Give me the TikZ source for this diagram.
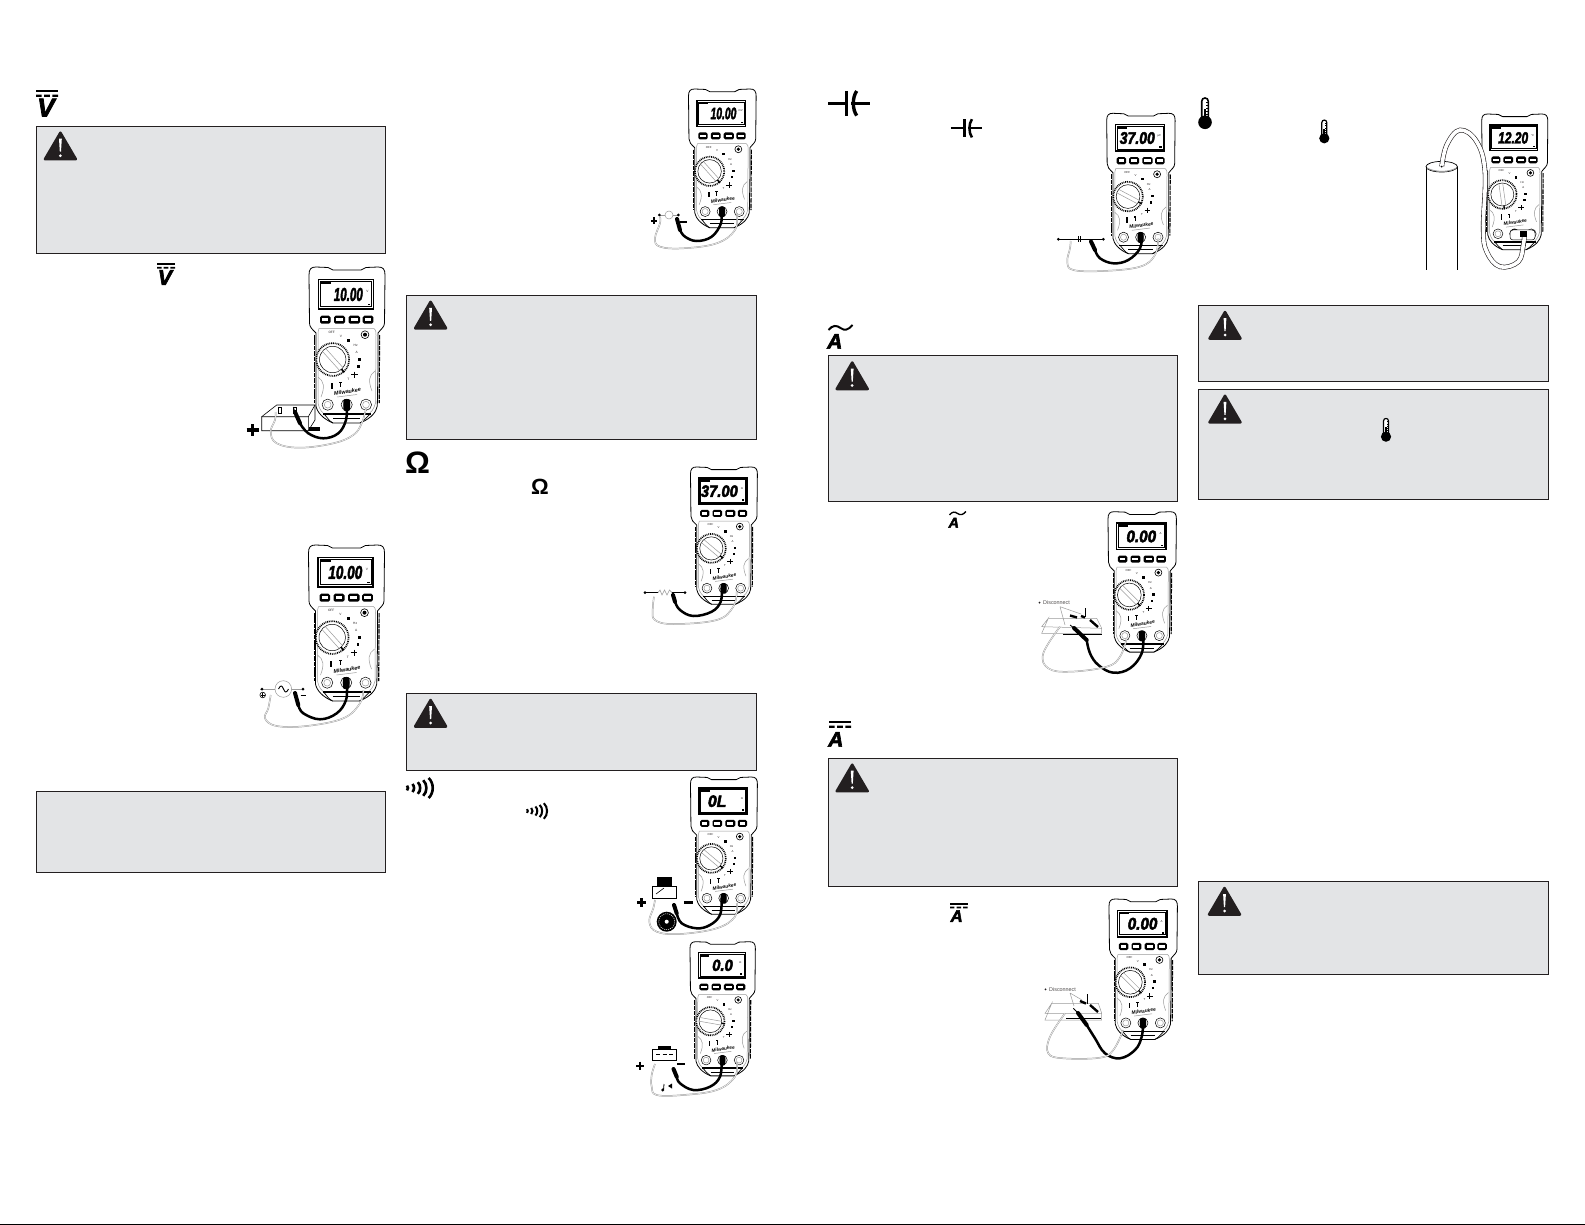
\documentclass[tikz,border=0pt]{standalone}
\usepackage{graphicx}
\usepackage{fontspec}
\setmainfont{Liberation Sans}
\newfontfamily\heavyit{Liberation Sans Bold Italic}[FakeBold=3]
\usetikzlibrary{calc}
\definecolor{ink}{HTML}{231F20}
\definecolor{boxfill}{HTML}{E3E4E6}
\definecolor{wiregray}{HTML}{9A9A9A}
\tikzset{
 panelbox/.style={draw=ink,fill=boxfill,line width=1pt},
 blackwire/.style={draw=black,line width=2.5pt,line cap=round},
 probeb/.style={draw=black,line width=4pt,line cap=round},
 graywire/.style={draw=wiregray,double=white,double distance=.5pt,line width=.5pt},
 thinpart/.style={draw=black,line width=.6pt},
 faint/.style={draw=wiregray,line width=.5pt},
 tiny/.style={inner sep=0pt,font=\fontsize{3.2}{3.2}\selectfont,text=ink},
}
\newcommand\wbox[4]{\draw[panelbox] (#1,#2) rectangle (#3,#4);}
\newcommand\wtri[2]{\begin{scope}[shift={(#1,#2)}]
 \draw[fill=ink,draw=ink,line join=round,line width=2.5pt] (17,2)--(32.5,28.5)--(1.5,28.5)--cycle;
 \fill[white] (15.6,8) -- (18.4,8) -- (17.6,21) -- (16.4,21) -- cycle;
 \fill[white] (17,25) circle (1.5);
\end{scope}}
% meter: x y scale reading width right unit angle
\newcommand\meter[8]{\begin{scope}[shift={(#1,#2)},scale=#3,transform shape]
 \draw[fill=white,draw=black,line width=.8pt,line join=round]
   (0,8) .. controls (0,2) and (2,0) .. (7,0) -- (19,.5) -- (24,3) -- (52,3) -- (57,.5) -- (69,0)
   .. controls (74,0) and (76,2) .. (76,8) -- (75.5,56) .. controls (75.5,60) and (72,62) .. (69,66)
   -- (69,100) -- (68.3,139) .. controls (67,145) and (63,151) .. (51,156) -- (24,156)
   .. controls (14,152) and (8,145) .. (7,139) -- (7,100) -- (7,66)
   .. controls (3,62) and (.5,60) .. (.5,56) -- cycle;
 \draw[line width=1.1pt,dash pattern=on 4.5pt off .9pt] (70.6,68) -- (70.2,136);
 \draw[line width=1.1pt,dash pattern=on 4.5pt off .9pt] (5.6,68) -- (5.6,136);
 \draw[faint] (10,61.5) -- (65,61.5) .. controls (66.5,62) and (67,64) .. (67,68) -- (66.5,136) .. controls (65,142) and (62,146) .. (58,148);
 \draw[faint] (10,61.5) .. controls (9,63) and (9,66) .. (9,70) -- (9,136) .. controls (10,142) and (13,146) .. (17,148);
 \draw[faint] (9,110) .. controls (15,114) and (16,120) .. (12,130);
 \draw[faint] (66,104) .. controls (60,108) and (59,114) .. (63,124);
 % lcd
 \draw[fill=white,draw=black,line width=1.5pt] (9.7,12.7) rectangle (64.3,42);
 \draw[draw=black,line width=.5pt] (11.4,14.4) rectangle (62.6,39.6);
 \fill[black] (11.4,14.6) rectangle (22,17.2);
 \fill[black] (58.5,36.7) rectangle (61,38.4);
 \node[anchor=east,inner sep=0pt] at (#6,27.5) {\resizebox{#5pt}{13pt}{\heavyit #4}};
 \node[tiny] at (58.5,24.5) {#7};
 % buttons
 \foreach \a/\b in {11/21.5,25/36,39.5/51,53.7/64.3}{
   \fill[black,rounded corners=1.6pt] (\a,48.7) rectangle (\b,56.7);
   \fill[white] (\a+2.2,51.2) rectangle (\b-2.2,54.2);
 }
 % dial
 \draw[line width=1.7pt,dash pattern=on .9pt off .9pt,fill=white] (23.7,92.5) circle (16.4);
 \draw[draw=black,line width=.5pt,fill=white] (23.7,92.5) circle (13.2);
 \begin{scope}[shift={(23.7,92.5)},rotate=#8]
  \draw[faint] (-12.9,-2.2) -- (12.9,-2.2);
  \draw[faint] (-12.9,2.2) -- (12.9,2.2);
  \fill[black] (13,-.8) rectangle (17.2,.8);
 \end{scope}
 % dial labels
 \node[tiny] at (22.7,65.5) {OFF};
 \node[tiny] at (32,69) {V};
 \fill[black] (38,71.5) rectangle (41,74.5);
 \node[tiny] at (46.7,78.7) {Hz};
 \node[tiny] at (47.7,85) {A};
 \fill[black] (49,90.5) rectangle (52,93.5);
 \fill[black] (48,98) rectangle (50.5,100.5);
 \draw[line width=.6pt] (42,107.7) -- (48.6,107.7) (45.3,104.7) -- (45.3,110.7);
 \node[tiny] at (39.3,112) {T};
 \fill[black] (30,114.5) rectangle (33,116);
 \draw[line width=.5pt] (31.5,116) -- (31.5,120);
 \fill[black] (21.8,115.5) rectangle (23.8,121.5);
 \draw[line width=.6pt,fill=white] (56,67.7) circle (3.9);
 \fill[black] (56,67.7) circle (2);
 \node[inner sep=0pt,rotate=9,font=\fontsize{5.4}{5.4}\bfseries\itshape\selectfont] at (38.5,124.5) {Milwaukee};
 \draw[faint] (28,130) -- (48,127.5);
 % jacks
 \foreach \j in {18.7,37.7,57}{
   \draw[line width=.5pt,fill=white] (\j,137.7) circle (5.6);
   \draw[draw=wiregray,line width=.5pt] (\j,137.7) circle (3.4);
 }
 % bottom bars
 \draw[line width=1.3pt] (14,147) -- (62,147);
 \draw[line width=.7pt] (24,151.5) -- (51,151.5);
 \draw[line width=.7pt] (15,147) .. controls (18,150) and (20,154) .. (24,156);
 \draw[line width=.7pt] (61,147) .. controls (58,150) and (55,154) .. (51,156);
 \fill[black,rounded corners=2pt] (34.3,132) rectangle (41.1,144);
\end{scope}}
\newcommand\plusmark[3]{\draw[line width=#3*.55pt] (#1-#3,#2) -- (#1+#3,#2) (#1,#2-#3) -- (#1,#2+#3);}
\newcommand\minusmark[3]{\draw[line width=#3*.55pt] (#1-#3,#2) -- (#1+#3,#2);}
\newcommand\bwire[1]{\draw[blackwire] plot[smooth,tension=.65] coordinates {#1};}
\newcommand\gwire[1]{\draw[graywire] plot[smooth,tension=.65] coordinates {#1};}
\newcommand\pdot[2]{\fill[black] (#1,#2) circle (1.5);}
% icons
\newcommand\dcbars[3]{\begin{scope}[shift={(#1,#2)},scale=#3]
 \fill[black] (0,0) rectangle (22,2.4);
 \fill[black] (0,4.6) rectangle (5.6,6.8) (8.2,4.6) rectangle (13.8,6.8) (16.4,4.6) rectangle (22,6.8);
\end{scope}}
\newcommand\capicon[3]{\begin{scope}[shift={(#1,#2)},scale=#3]
 \draw[line width=3pt*#3] (-20.4,0) -- (-2,0);
 \draw[line width=3.4pt*#3] (-2,-12.3) -- (-2,12.3);
 \draw[line width=3.4pt*#3] (8,-12.3) .. controls (3.5,-6) and (3.5,6) .. (8,12.3);
 \draw[line width=3pt*#3] (2.6,0) -- (21.3,0);
\end{scope}}
\newcommand\thermo[3]{\begin{scope}[shift={(#1,#2)},scale=#3]
 \draw[line width=1.6pt*#3,fill=white] (-3.3,-4) -- (-3.3,-21) .. controls (-3.3,-25.4) and (3.3,-25.4) .. (3.3,-21) -- (3.3,-4);
 \fill[black] (0,0) circle (6.8);
 \fill[black] (-1.2,-13) rectangle (1.2,0);
 \foreach \t in {-20,-17,-14,-11,-8}{\draw[line width=.6pt*#3] (3.3,\t) -- (1.4,\t);}
\end{scope}}
\newcommand\soundicon[3]{\begin{scope}[shift={(#1,#2)},scale=#3]
 \foreach \i/\h in {0/2.4,1/4,2/5.8,3/7.8,4/10}{
  \draw[line width=2.6pt*#3] (\i*5.4,-\h) .. controls (\i*5.4+\h*.55,-\h*.5) and (\i*5.4+\h*.55,\h*.5) .. (\i*5.4,\h);
 }
\end{scope}}
\newcommand\tildeA[3]{\begin{scope}[shift={(#1,#2)},scale=#3,transform shape]
 \draw[line width=2pt*#3] (0,5) .. controls (4,0) and (8,0) .. (12,3) .. controls (16,6) and (20,5) .. (24,0);
 \node[anchor=north west,inner sep=0pt,font=\heavyit\fontsize{21}{21}\selectfont] at (-1.5,9) {A};
\end{scope}}
\begin{document}
\begin{tikzpicture}[x=1pt,y=-1pt]
\useasboundingbox (0,0) rectangle (1585,1225);
\fill[white] (0,0) rectangle (1585,1225);
\draw[line width=.7pt] (0,1224.6) -- (1585,1224.6);

% panels
\wbox{36.4}{126.4}{385.6}{253.7} \wtri{43.4}{130.7}
\wbox{36.4}{791.5}{385.6}{872.4}
\wbox{406.4}{295.2}{756.4}{439.7} \wtri{413.6}{299.8}
\wbox{406.4}{693.4}{756.4}{770.3} \wtri{413.6}{698}
\wbox{828.5}{355.8}{1177.6}{501.4} \wtri{835.2}{360.5}
\wbox{828.5}{758.1}{1177.6}{886.5} \wtri{835.2}{762.7}
\wbox{1198.3}{305.3}{1548.6}{381.1} \wtri{1208}{310}
\wbox{1198.3}{389.2}{1548.6}{499.3} \wtri{1208}{393.8}
\wbox{1198.3}{881.4}{1548.6}{974.4} \wtri{1207.5}{886}

% section icons
\dcbars{36}{90}{1}
\node[anchor=north west,inner sep=0pt,font=\heavyit\fontsize{26}{26}\selectfont] at (37,98.5) {V};
\dcbars{157}{263}{.82}
\begin{scope}[shift={(157,263)},scale=.82,transform shape]
\node[anchor=north west,inner sep=0pt,font=\heavyit\fontsize{26}{26}\selectfont] at (.8,8.5) {V};
\end{scope}
\capicon{848.7}{103.3}{1}
\capicon{966}{128.3}{.74}
\thermo{1205}{122.3}{1}
\thermo{1324.3}{138.3}{.75}
\thermo{1386}{436.7}{.75}
\node[anchor=north west,inner sep=0pt,font=\bfseries\fontsize{31}{31}\selectfont] at (405,451.5) {Ω};
\node[anchor=north west,inner sep=0pt,font=\bfseries\fontsize{22}{22}\selectfont] at (531,478.5) {Ω};
\soundicon{407}{788}{1}
\soundicon{527}{811}{.78}
\tildeA{828.5}{325}{1}
\tildeA{949.5}{511.5}{.68}
\dcbars{829}{721}{1}
\node[anchor=north west,inner sep=0pt,font=\heavyit\fontsize{21}{21}\selectfont] at (828,732) {A};
\dcbars{950}{903}{.8}
\begin{scope}[shift={(950,903)},scale=.8,transform shape]
\node[anchor=north west,inner sep=0pt,font=\heavyit\fontsize{21}{21}\selectfont] at (.5,9) {A};
\end{scope}

% ---- scene 1
\meter{309}{267}{1}{10.00}{29}{54}{V}{-48}
\draw[thinpart,fill=white] (261.7,416.7) -- (276.7,405) -- (315,405) -- (315,420) -- (308.3,430.7) -- (261.7,430.7) -- cycle;
\draw[thinpart] (261.7,416.7) -- (308.3,416.7) -- (315,405) (308.3,416.7) -- (308.3,430.7);
\draw[thinpart,fill=white] (278,407) rectangle (281,413) (293.5,407) rectangle (296.5,413);
\bwire{(346.7,405)(346,420)(338.3,433.3)(323.3,438.3)(308.3,433.3)(300,423.3)}
\draw[probeb] (300,423.3) -- (295,412);
\draw[line width=.8pt] (295,412) -- (293.3,407);
\gwire{(366,408.3)(361.7,423.3)(353.3,435)(333.3,443.3)(300,447.7)(276.7,443.3)(270.7,431.7)(275,420)(275.7,412)}
\plusmark{252.7}{430}{6}
\minusmark{314.5}{429}{5.5}

% ---- scene 2
\meter{308.5}{545}{1}{10.00}{34}{54}{V}{-48}
\draw[faint] (260,689) -- (303.3,689);
\draw[faint,fill=white] (283.3,689) circle (8.3);
\draw[line width=.9pt] (278.5,689) .. controls (280.5,685) and (282,685) .. (283.5,689) .. controls (285,693) and (286.5,693) .. (288.5,689);
\pdot{262}{689}\pdot{303}{689}
\bwire{(346.7,683.3)(346,700)(336.7,713.3)(320,719.3)(303.3,713.3)(298.3,705)}
\draw[probeb] (298.3,705) -- (295,693);
\gwire{(363.3,690)(360,703.3)(343.3,718.3)(306.7,726)(276.7,726)(265,718.3)(268.3,708.3)(270.7,695)}
\draw[line width=.6pt,fill=white] (262.7,695) circle (2.8);
\draw[line width=.6pt] (260.5,695) -- (264.9,695) (262.7,692.8) -- (262.7,697.2);
\draw[line width=.7pt] (300.5,695) -- (306,695);

% ---- scene 3
\meter{688.5}{89}{.89}{10.00}{29}{54}{mV}{-48}
\draw[faint] (659.3,215) -- (678.3,215);
\draw[faint,fill=white] (669,215) circle (4);
\pdot{659.3}{215}\pdot{678.3}{215}
\bwire{(721,211.7)(721,223.3)(711.7,236.7)(696.7,241)(685,236.7)(680,230)}
\draw[probeb] (680,230) -- (677,219);
\gwire{(736.7,213)(735,230)(716.7,243.3)(683.3,248.3)(660,246.7)(655,238.3)(660,223.3)(660,216.7)}
\plusmark{654}{220.7}{3.2}
\minusmark{683.5}{221.7}{3.2}

% ---- scene 4
\meter{690.5}{467}{.88}{37.00}{42}{54}{Ω}{-40}
\draw[line width=.7pt] (645,592.7) -- (658,592.7) (672,592.7) -- (685,592.7);
\draw[draw=wiregray,line width=.6pt] (658,592.7) -- (660,590) -- (662,595) -- (664.5,590) -- (667,595) -- (669.5,590) -- (672,592.7);
\pdot{645}{592.7}\pdot{685}{592.7}
\bwire{(721.7,588.3)(720.7,601.7)(711.7,611.7)(693.3,616)(680,610)(675,601.7)}
\draw[probeb] (675,601.7) -- (673,595);
\gwire{(736.7,591.7)(733.3,606.7)(716.7,620)(673.3,624)(655,620)(652.7,610)(654,596.7)}

% ---- scene 5
\meter{690.5}{777}{.88}{0L}{21}{41}{Ω}{-40}
\draw[fill=black] (657.3,876.7) rectangle (670.7,886.7);
\draw[thinpart,fill=white] (652.7,886.7) rectangle (676.7,898.3);
\draw[thinpart] (656,894) -- (664,888);
\fill[black] (666.7,921.7) circle (10);
\draw[white,line width=.5pt,dash pattern=on 1pt off 1pt] (666.7,921.7) circle (8);
\fill[white] (666.7,921.7) circle (2);
\bwire{(721.7,898.3)(720,915)(710,925)(696.7,928.3)(681.7,923.3)(676.7,913.3)}
\draw[probeb] (676.7,913.3) -- (674,905);
\gwire{(736.7,903)(735,916.7)(716.7,928.3)(680,934)(656.7,931.7)(649.3,921.7)(653.3,908.3)(655,900)}
\plusmark{641.7}{902.7}{4.5}
\minusmark{688.3}{902.3}{4.5}

% ---- scene 6
\meter{690}{941.7}{.86}{0.0}{24}{50}{Ω}{-10}
\fill[black] (658,1045.7) rectangle (670.7,1049);
\draw[thinpart,fill=white] (652.7,1049) rectangle (676.7,1060);
\draw[thinpart] (656,1054.5) -- (660,1054.5) (662.5,1054.5) -- (666.5,1054.5) (669,1054.5) -- (673,1054.5);
\bwire{(721.7,1060)(720,1076.7)(710,1086.7)(693.3,1090)(680,1083.3)(676.7,1076.7)}
\draw[probeb] (676.7,1076.7) -- (673.5,1069);
\gwire{(736.7,1061.7)(735,1076.7)(716.7,1090)(683.3,1095)(656.7,1095)(651.7,1086.7)(651.7,1075)(655,1064)}
\plusmark{640}{1065.7}{4}
\minusmark{681}{1064}{4}
\draw[line width=.8pt] (664,1084) -- (663.5,1090);
\fill[black] (662.7,1090) circle (1.6);
\fill[black] (668,1086) -- (672,1083.5) -- (672,1088.5) -- cycle;

% ---- scene 7
\meter{1106.7}{113.3}{.9}{37.00}{39}{53.7}{μF}{-28}
\draw[line width=.6pt] (1058.3,239.3) -- (1103.3,239.3);
\draw[line width=.8pt] (1078.6,236.5) -- (1078.6,242) (1080.4,236.5) -- (1080.4,242);
\pdot{1058.3}{239.3}\pdot{1103.3}{239.3}
\bwire{(1141.7,235)(1140,248.3)(1128.3,260)(1113.3,263.3)(1100,258.3)(1095,250)}
\draw[probeb] (1095,250) -- (1091,241.5);
\gwire{(1158.3,238.3)(1155,255)(1140,266.7)(1103.3,271)(1073.3,270)(1067.3,261.7)(1070,248.3)(1070.7,241)}

% ---- scene 8
\meter{1108}{511.7}{.9}{0.00}{33}{53.7}{A}{-45}
\draw[faint] (1048.3,618.3) -- (1096.7,618.3) -- (1101.7,628.3);
\draw[faint] (1048.3,618.3) -- (1041.7,626.7) -- (1101.7,628.3) -- (1101.7,633.3) -- (1041.7,633.3) -- cycle;
\draw[line width=.7pt] (1063,634.2) -- (1102,634.2);
\draw[line width=2.4pt] (1070,615.5) -- (1077,617.5);
\draw[line width=2.4pt] (1081,616) -- (1085,617.5);
\draw[line width=2.4pt] (1090,620) -- (1098,627);
\draw[line width=.6pt] (1085,608) -- (1085,617);
\draw[faint] (1060,606.7) -- (1065,625) (1060,606.7) -- (1081,614);
\node[anchor=west,inner sep=0pt,font=\fontsize{5.4}{5.4}\selectfont,text=ink!80] at (1043,602.7) {Disconnect};
\fill[ink] (1039.5,602.7) circle (1);
\bwire{(1143.3,635)(1141.7,653.3)(1130,668.3)(1113.3,672.7)(1098.3,665)(1090,653.3)(1086.7,640)}
\draw[probeb] (1086.7,640) -- (1074,628);
\draw[line width=.8pt] (1074,628) -- (1070,625);
\gwire{(1126.7,638.3)(1120,656.7)(1106.7,666.7)(1070,671.7)(1048.3,668.3)(1043.3,653.3)(1060,626.7)}

% ---- scene 9
\meter{1109}{899}{.9}{0.00}{33}{54}{A}{-45}
\draw[faint] (1051.7,1003.3) -- (1098.3,1003.3) -- (1101.7,1013.3);
\draw[faint] (1051.7,1003.3) -- (1045,1013.3) -- (1101.7,1013.3) -- (1101.7,1020) -- (1045,1020) -- cycle;
\draw[line width=.7pt] (1066,1018) -- (1101,1018);
\draw[line width=2.4pt] (1080,1001) -- (1086,1003.5);
\draw[line width=2.4pt] (1090,1005) -- (1098,1012);
\draw[line width=.6pt] (1087,994) -- (1087,1004);
\draw[faint] (1070,993) -- (1074,1006) (1070,993) -- (1082,1000);
\node[anchor=west,inner sep=0pt,font=\fontsize{5.4}{5.4}\selectfont,text=ink!80] at (1049,989.3) {Disconnect};
\fill[ink] (1045.5,989.3) circle (1);
\bwire{(1143.3,1020)(1141.7,1036.7)(1135,1050)(1120,1058.3)(1105,1053.3)(1095,1038.3)(1086.7,1025)}
\draw[probeb] (1086.7,1025) -- (1078,1013);
\draw[line width=.8pt] (1078,1013) -- (1073.3,1008.3);
\gwire{(1123.3,1030)(1113.3,1050)(1100,1057.7)(1063.3,1058.3)(1048.3,1053.3)(1050,1036.7)(1065,1013.3)}

% ---- scene 10
\meter{1481.7}{114}{.87}{12.20}{34.5}{53.6}{°C}{-82}
\draw[line width=.7pt] (1426,166.7) -- (1426,270) (1457.3,166.7) -- (1457.3,270);
\draw[line width=.7pt,fill=white] (1441.7,166.7) ellipse (15.7 and 5.3);
\draw[draw=wiregray,line width=.9pt] (1427,168) .. controls (1435,172.5) and (1449,172.5) .. (1456.3,168);
\fill[white,rounded corners=3pt] (1510,230) rectangle (1535,240);
\draw[line width=.5pt,rounded corners=3pt] (1510,230) rectangle (1535,240);
\draw[draw=ink,double=white,double distance=3.6pt,line width=.6pt] plot[smooth,tension=.65] coordinates {(1441.7,166.7)(1446.7,145)(1460,130)(1476.7,141.7)(1485,171.7)(1483.3,228.3)(1486.7,251.7)(1500,266.7)(1518.3,261.7)(1523.3,245)(1524.3,235)};
\fill[black] (1519.5,231) rectangle (1527,237);
\fill[black] (1441.7,166.7) circle (1);
\end{tikzpicture}
\end{document}
